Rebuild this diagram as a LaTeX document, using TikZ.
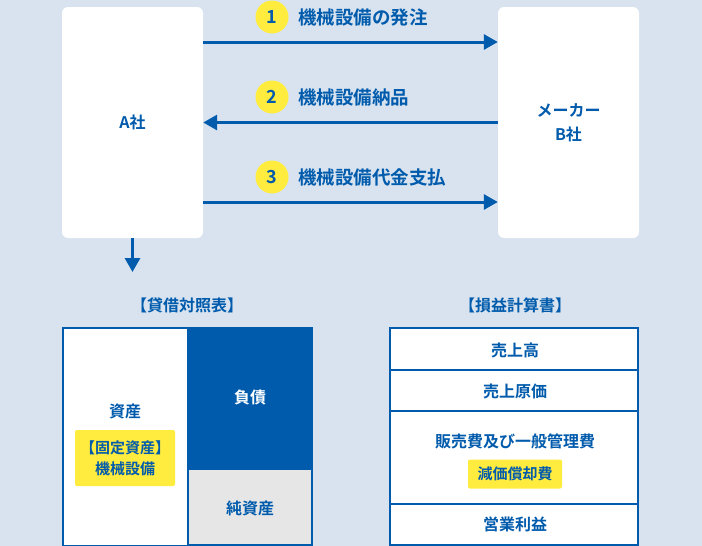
\documentclass[tikz,border=0pt]{standalone}
\usepackage{fontspec}
\setmainfont{Noto Sans CJK JP}[BoldFont={Noto Sans CJK JP Bold}]
\usetikzlibrary{arrows.meta}

\definecolor{bgblue}{HTML}{D8E3EF}
\definecolor{mainblue}{HTML}{005BAC}
\definecolor{markyellow}{HTML}{FFEC3E}
\definecolor{netgray}{HTML}{E6E6E6}

\tikzset{
  company/.style={fill=white, rounded corners=6pt, minimum width=141pt, minimum height=231pt,
    text=mainblue, align=center, font=\fontsize{16}{24}\selectfont\bfseries},
  flow/.style={draw=mainblue, line width=3pt},
  stepnum/.style={circle, fill=markyellow, minimum size=33pt, inner sep=0pt,
    text=mainblue, font=\fontsize{18}{18}\selectfont\bfseries},
  flowtext/.style={anchor=west, inner sep=0pt, text=mainblue, font=\fontsize{18.5}{18.5}\selectfont\bfseries},
  sheettitle/.style={text=mainblue, font=\fontsize{16}{16}\selectfont\bfseries},
  cell/.style={draw=mainblue, line width=2.5pt, anchor=north west, inner sep=0pt, outer sep=0pt},
  celltext/.style={text=mainblue, font=\fontsize{16}{16}\selectfont\bfseries},
  marker/.style={fill=markyellow, rounded corners=2pt, text=mainblue, align=center,
    font=\fontsize{15}{21}\selectfont\bfseries}
}

\begin{document}
\begin{tikzpicture}[x=1pt, y=-1pt, >={Triangle[length=14pt, width=15pt]}]
  \fill[bgblue] (0,0) rectangle (702,546);
  \useasboundingbox (0,0) rectangle (702,546);

  % companies
  \node[company] (A) at (132.5,122.5) {A社};
  \node[company] (B) at (568.5,122.5) {メーカー\\B社};

  % flows
  \draw[flow, ->] ([yshift=80.5pt]A.east) -- ([yshift=80.5pt]B.west);
  \draw[flow, ->] (B.west) -- (A.east);
  \draw[flow, ->] ([yshift=-79.5pt]A.east) -- ([yshift=-79.5pt]B.west);

  \node[stepnum] (n1) at (272,17) {1};
  \node[stepnum] (n2) at (272,97) {2};
  \node[stepnum] (n3) at (272,177) {3};
  \node[flowtext] (t1) at (298,17) {機械設備の発注};
  \node[flowtext] (t2) at (298,97) {機械設備納品};
  \node[flowtext] (t3) at (298,177) {機械設備代金支払};

  \coordinate (down) at (132.5,272);
  \draw[flow, ->] (A.south) -- (down);

  % balance sheet
  \node[sheettitle] (bstitle) at (187,305) {【貸借対照表】};
  \node[cell, fill=white, minimum width=125pt, minimum height=218pt] (assets) at (63,328) {};
  \node[cell, fill=mainblue, minimum width=124pt, minimum height=141pt] (debt) at (188,328) {};
  \node[cell, fill=netgray, minimum width=124pt, minimum height=76pt] (equity) at (188,469) {};
  \node[celltext] (assetstext) at (125,411) {資産};
  \node[marker, minimum width=100pt, minimum height=56pt] (fixed) at (125,458) {【固定資産】\\機械設備};
  \node[celltext, text=white] (debttext) at (250,397) {負債};
  \node[celltext] (equitytext) at (250,508) {純資産};

  % income statement
  \node[sheettitle] (pltitle) at (515,305) {【損益計算書】};
  \node[cell, fill=white, minimum width=248pt, minimum height=42pt] (sales) at (390,328) {};
  \node[cell, fill=white, minimum width=248pt, minimum height=41pt] (cost) at (390,370) {};
  \node[cell, fill=white, minimum width=248pt, minimum height=93pt] (sga) at (390,411) {};
  \node[cell, fill=white, minimum width=248pt, minimum height=41pt] (profit) at (390,504) {};
  \node[celltext] (salestext) at (515,350) {売上高};
  \node[celltext] (costtext) at (515,391) {売上原価};
  \node[celltext] (sgatext) at (515,441) {販売費及び一般管理費};
  \node[marker, minimum width=94pt, minimum height=29pt] (depr) at (515,474) {減価償却費};
  \node[celltext] (profittext) at (515,524) {営業利益};
\end{tikzpicture}
\end{document}
